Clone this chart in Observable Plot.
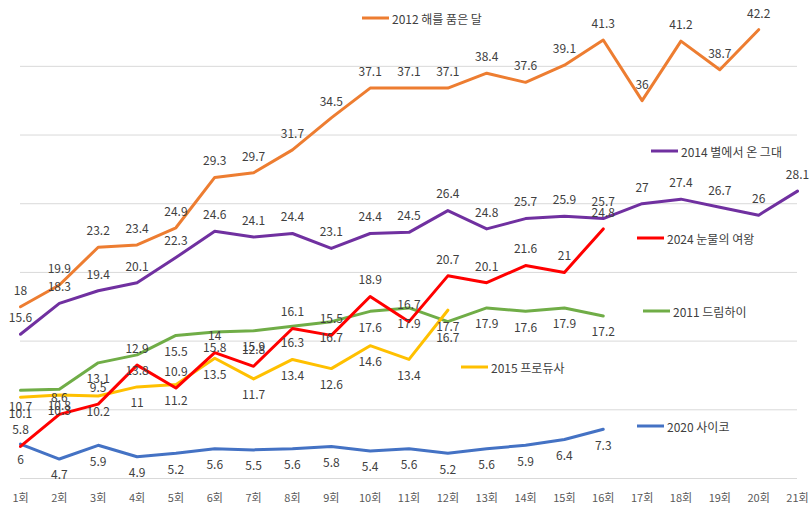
<!DOCTYPE html>
<html>
<head>
<meta charset="utf-8">
<script src="https://cdn.jsdelivr.net/npm/d3@7"></script>
<script src="https://cdn.jsdelivr.net/npm/@observablehq/plot@0.6"></script>
<style>
  html, body { margin: 0; padding: 0; background: #ffffff; }
  #wrap { position: relative; width: 811px; height: 520px; font-family: "Noto Sans CJK KR", "Noto Sans", sans-serif; }
  .lg { position: absolute; display: flex; align-items: center; font-size: 12px; color: #404040; white-space: nowrap; transform: translateY(-50%); }
  .lg .sw { width: 27px; height: 3px; margin-right: 3px; }
</style>
</head>
<body>
<div id="wrap"></div>
<script>
// ---- data ----
const episodes = ["1회","2회","3회","4회","5회","6회","7회","8회","9회","10회","11회","12회","13회","14회","15회","16회","17회","18회","19회","20회","21회"];
const seriesNames = ["2011 드림하이","2012 해를 품은 달","2014 별에서 온 그대","2015 프로듀사","2020 사이코","2024 눈물의 여왕"];
const seriesColors = ["#70AD47","#ED7D31","#7030A0","#FFC000","#4472C4","#FF0000"];
const labelSide = ["below","above","above","below","below","above"];

const dreamHigh2011 = [10.7,10.8,13.1,13.8,15.5,15.8,15.9,16.3,16.7,17.6,17.9,16.7,17.9,17.6,17.9,17.2];
const moon2012 = [18,19.9,23.2,23.4,24.9,29.3,29.7,31.7,34.5,37.1,37.1,37.1,38.4,37.6,39.1,41.3,36,41.2,38.7,42.2];
const star2014 = [15.6,18.3,19.4,20.1,22.3,24.6,24.1,24.4,23.1,24.4,24.5,26.4,24.8,25.7,25.9,25.7,27,27.4,26.7,26,28.1];
const producer2015 = [10.1,10.3,10.2,11,11.2,13.5,11.7,13.4,12.6,14.6,13.4,17.7];
const psycho2020 = [6,4.7,5.9,4.9,5.2,5.6,5.5,5.6,5.8,5.4,5.6,5.2,5.6,5.9,6.4,7.3];
const queen2024 = [5.8,8.6,9.5,12.9,10.9,14,12.8,16.1,15.5,18.9,16.7,20.7,20.1,21.6,21,24.8];

const gridValues = [3,9,15,21,27,33,39];

// ---- build table ----
const allSeries = [dreamHigh2011, moon2012, star2014, producer2015, psycho2020, queen2024];
const rows = [];
allSeries.forEach((vals, si) => {
  vals.forEach((v, i) => rows.push({series: seriesNames[si], ep: episodes[i], value: v, side: labelSide[si]}));
});

const colorScale = {domain: seriesNames, range: seriesColors};

const chart = Plot.plot({
  width: 811,
  height: 520,
  marginTop: 0,
  marginBottom: 42,
  marginLeft: 20,
  marginRight: 14,
  style: {fontFamily: '"Noto Sans CJK KR", "Noto Sans", sans-serif', background: "#ffffff"},
  x: {type: "point", domain: episodes, range: [20, 797], padding: 0, round: false, label: null},
  y: {domain: [3, 44.75], axis: null},
  color: colorScale,
  marks: [
    Plot.ruleY(gridValues, {stroke: "#d9d9d9", strokeWidth: 1}),
    Plot.axisX({tickSize: 0, tickPadding: 16, fontSize: 11, fill: "#595959", label: null}),
    Plot.line(rows, {x: "ep", y: "value", z: "series", stroke: "series", strokeWidth: 3, strokeLinejoin: "round", strokeLinecap: "round"}),
    Plot.text(rows.filter(d => d.side === "above"), {x: "ep", y: "value", text: d => String(d.value), dy: -16, fontSize: 12, fill: "#404040"}),
    Plot.text(rows.filter(d => d.side === "below"), {x: "ep", y: "value", text: d => String(d.value), dy: 16.5, fontSize: 12, fill: "#404040"})
  ]
});

const wrap = document.getElementById("wrap");
wrap.appendChild(chart);

// legend entries placed inside the plot area
const legendPos = [
  {left: 643, top: 311},
  {left: 362, top: 18},
  {left: 651, top: 151},
  {left: 461, top: 367},
  {left: 637, top: 426},
  {left: 637, top: 238}
];
seriesNames.forEach((name, i) => {
  const el = document.createElement("div");
  el.className = "lg";
  el.style.left = legendPos[i].left + "px";
  el.style.top = legendPos[i].top + "px";
  const sw = document.createElement("span");
  sw.className = "sw";
  sw.style.background = seriesColors[i];
  const tx = document.createElement("span");
  tx.textContent = name;
  el.appendChild(sw);
  el.appendChild(tx);
  wrap.appendChild(el);
});
</script>
</body>
</html>
